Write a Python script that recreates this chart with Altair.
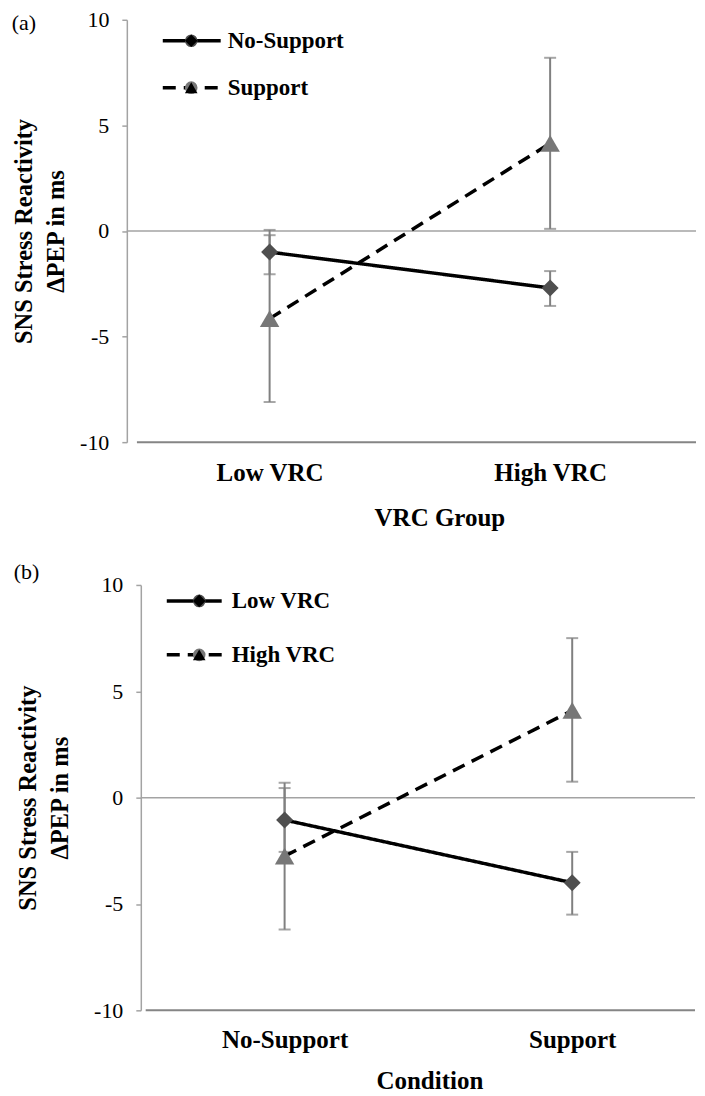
import altair as alt
import pandas as pd

FONT = "Liberation Serif"

# ---------------- panel (a): x = VRC group, series = condition
a_categories = ["Low VRC", "High VRC"]
a_series = ["No-Support", "Support"]
a_nosupport_mean = [-1.0, -2.7]
a_nosupport_low = [-2.05, -3.55]
a_nosupport_high = [0.05, -1.9]
a_support_mean = [-4.15, 4.15]
a_support_low = [-8.1, 0.1]
a_support_high = [-0.2, 8.2]

# ---------------- panel (b): x = condition, series = VRC group
b_categories = ["No-Support", "Support"]
b_series = ["Low VRC", "High VRC"]
b_lowvrc_mean = [-1.05, -4.0]
b_lowvrc_low = [-2.55, -5.5]
b_lowvrc_high = [0.45, -2.55]
b_highvrc_mean = [-2.75, 4.1]
b_highvrc_low = [-6.2, 0.75]
b_highvrc_high = [0.7, 7.5]

y_ticks = [-10, -5, 0, 5, 10]
y_title = ["SNS Stress Reactivity", "\u0394PEP in ms"]

AXIS_GRAY = "#a3a3a3"
BOTTOM_GRAY = "#858585"
ERR_GRAY = "#808080"
DIAMOND = "#4f4f4f"
TRIANGLE = "#777777"


def table(series, means, lows, highs):
    rows = []
    for s, m, lo, hi in zip(series, means, lows, highs):
        for i in range(len(m)):
            rows.append({"series": s, "series2": s, "idx": i,
                         "mean": m[i], "lo": lo[i], "hi": hi[i]})
    return pd.DataFrame(rows)


def panel(df, cats, series, letter, xtitle, width, height, xdomain, axis_x, bottom_x,
          y_offset, y_title_pad, y_label_pad, x_label_pad, x_title_pad, x_title_x,
          title_dx, title_dy, leg_x, leg_y, leg_row_pad, stroke_len, shape_x,
          leg_label_off):
    label_expr = "[" + ",".join("'%s'" % c for c in cats) + "][datum.value]"
    xaxis = alt.Axis(values=[0, 1], labelExpr=label_expr, ticks=False, tickSize=0,
                     domain=False, grid=False,
                     labelFont=FONT, labelFontSize=25, labelFontWeight="bold",
                     labelColor="black", labelPadding=x_label_pad, labelFlush=False,
                     title=xtitle, titleFont=FONT, titleFontSize=25,
                     titleFontWeight="bold", titleColor="black",
                     titlePadding=x_title_pad, titleX=x_title_x)
    yaxis = alt.Axis(values=y_ticks, labelExpr="'' + datum.value", title=y_title,
                     grid=False, offset=y_offset, titleFont=FONT, titleFontSize=24.5,
                     titleFontWeight="bold", titleColor="black", titleLineHeight=32,
                     titlePadding=y_title_pad,
                     labelFont=FONT, labelFontSize=22, labelColor="black",
                     labelPadding=y_label_pad, tickSize=5, tickColor=AXIS_GRAY,
                     tickWidth=1.5, domainColor=AXIS_GRAY, domainWidth=1.5)
    xscale = alt.Scale(domain=xdomain, nice=False, zero=False)
    yscale = alt.Scale(domain=[-10, 10], nice=False, zero=False)

    def X():
        return alt.X("idx:Q", scale=xscale, axis=xaxis)

    def Y(f):
        return alt.Y(f + ":Q", scale=yscale, axis=yaxis)

    # zero line (starts at the value axis) and bottom frame line
    zero = alt.Chart(pd.DataFrame({"z": [0]})).mark_rule(
        color=AXIS_GRAY, strokeWidth=1.5).encode(
        y=Y("z"),
        x=alt.XDatum(axis_x, type="quantitative", scale=xscale, axis=xaxis),
        x2=alt.X2Datum(xdomain[1]))
    bottom = alt.Chart(pd.DataFrame({"z": [-10]})).mark_rule(
        color=BOTTOM_GRAY, strokeWidth=2).encode(
        y=Y("z"),
        x=alt.XDatum(bottom_x, type="quantitative", scale=xscale, axis=xaxis),
        x2=alt.X2Datum(xdomain[1]))

    err = alt.Chart(df).mark_rule(color=ERR_GRAY, strokeWidth=2).encode(
        x=X(), y=Y("lo"), y2="hi:Q")
    cap_lo = alt.Chart(df).mark_tick(orient="horizontal", size=12, thickness=2,
                                     color=ERR_GRAY).encode(x=X(), y=Y("lo"))
    cap_hi = alt.Chart(df).mark_tick(orient="horizontal", size=12, thickness=2,
                                     color=ERR_GRAY).encode(x=X(), y=Y("hi"))

    stroke_leg = alt.Legend(title=None, orient="none", legendX=leg_x, legendY=leg_y,
                            symbolType="stroke", symbolSize=stroke_len ** 2,
                            symbolStrokeWidth=3.5, symbolStrokeColor="black",
                            clipHeight=22, rowPadding=leg_row_pad, padding=0,
                            labelFont=FONT, labelFontSize=23, labelFontWeight="bold",
                            labelColor="black", labelOffset=leg_label_off,
                            labelLimit=400)
    lines = alt.Chart(df).mark_line(color="black", strokeWidth=3.5).encode(
        x=X(), y=Y("mean"),
        strokeDash=alt.StrokeDash("series:N",
                                  scale=alt.Scale(domain=series, range=[[1, 0], [13, 8]]),
                                  legend=stroke_leg))

    shape_leg = alt.Legend(title=None, orient="none", legendX=shape_x, legendY=leg_y,
                           symbolSize=160, symbolStrokeWidth=0, clipHeight=22,
                           rowPadding=leg_row_pad, padding=0, labelExpr="''",
                           labelFont=FONT, labelFontSize=23)
    points = alt.Chart(df).mark_point(filled=True, opacity=1, strokeWidth=0).encode(
        x=X(), y=Y("mean"),
        shape=alt.Shape("series2:N", sort=series,
                        scale=alt.Scale(range=["diamond", "triangle-up"]),
                        legend=shape_leg),
        color=alt.Color("series2:N", sort=series,
                        scale=alt.Scale(range=[DIAMOND, TRIANGLE]),
                        legend=shape_leg),
        size=alt.Size("series2:N", sort=series,
                      scale=alt.Scale(range=[290, 380]), legend=None))

    return alt.layer(zero, bottom, err, cap_lo, cap_hi, lines, points).properties(
        width=width, height=height,
        title=alt.TitleParams(letter, anchor="start", frame="bounds", orient="top",
                              offset=0, dx=title_dx, dy=title_dy, font=FONT,
                              fontSize=22, fontWeight="normal", color="black",
                              baseline="alphabetic"))


df_a = table(a_series, [a_nosupport_mean, a_support_mean],
             [a_nosupport_low, a_support_low], [a_nosupport_high, a_support_high])
df_b = table(b_series, [b_lowvrc_mean, b_highvrc_mean],
             [b_lowvrc_low, b_highvrc_low], [b_lowvrc_high, b_highvrc_high])

chart_a = panel(df_a, a_categories, a_series, "(a)", "VRC Group", 570, 423,
                [-0.509, 1.52], -0.509, -0.473,
                0, 11, 13, 18, 20, 313,
                0, 43,
                34, 10, 24, 58, 53, 5)
chart_b = panel(df_b, b_categories, b_series, "(b)", "Condition", 569, 426,
                [-0.5486, 1.427], -0.5, -0.483,
                -14, 21, 13, 17, 16, 303,
                -2, 27,
                38, 5, 31, 55, 61, 8)

chart = alt.vconcat(chart_a, chart_b, spacing=31).resolve_scale(
    strokeDash="independent", shape="independent", color="independent",
    size="independent"
).resolve_legend(
    strokeDash="independent", shape="independent", color="independent"
).properties(
    padding={"left": 3, "top": 0, "right": 0, "bottom": 0}
).configure(font=FONT).configure_view(stroke=None)

chart.save("out.html", embed_options={"renderer": "svg", "actions": False})
